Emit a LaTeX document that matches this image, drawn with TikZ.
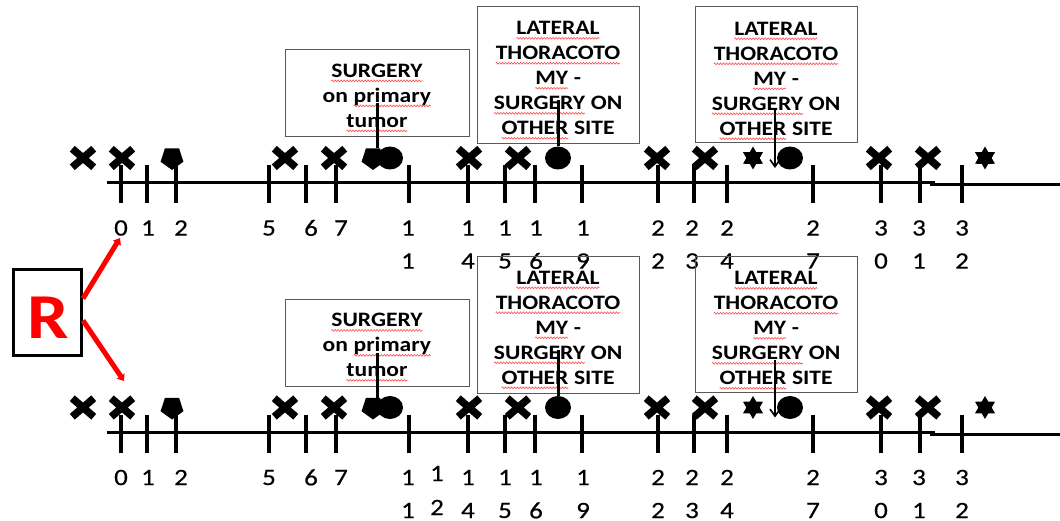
\documentclass[tikz,border=0pt]{standalone}
\usepackage{fontspec}
\setmainfont{Carlito}[FakeStretch=1.15]
\newfontfamily\digitfont{Carlito}[FakeStretch=1.15, FakeBold=0.4]
\usetikzlibrary{arrows.meta,shapes.geometric,shapes.misc,decorations.pathmorphing}
\newcommand{\wv}[1]{\tikz[baseline=(w.base), x=1pt, y=1pt]{\node[inner sep=0pt, outer sep=0pt, draw=none, fill=none, minimum width=0pt, minimum height=0pt, shape=rectangle] (w) {#1};
  \draw[red!70, line width=0.6pt, decorate, decoration={zigzag, segment length=3pt, amplitude=0.9pt}] ([yshift=-3.5pt]w.base west) -- ([yshift=-3.5pt]w.base east);}}
\newcommand{\drawtimeline}{%
  \draw[axisline] (107,183) -- (935,183);
  \draw[axisline] (930,185) -- (1060,185);
  \foreach \x in {121,147,176,269,306,336,409,468,505,535,582,658,694,727,813,881,920,962}
    \draw[tickline] (\x,165) -- (\x,203);
  \foreach \x/\d [count=\i] in {121/0,148/1,181/2,269/5,311/6,341/7,408/1,468/1,505/1,536/1,583/1,658/2,692/2,727/2,813/2,881/3,919/3,962/3}
    \node[lbl] (ua\i) at (\x,228) {\d};
  \foreach \x/\d [count=\i] in {408/1,468/4,505/5,536/6,583/9,658/2,692/3,727/4,813/7,881/0,919/1,962/2}
    \node[lbl] (ub\i) at (\x,261) {\d};
  \node[infobox, minimum width=184pt, minimum height=87pt] (b1) at (377,93.5) {};
  \node[boxtext] (t1) at (377,98) {\wv{SURGERY}\\on \wv{primary}\\\wv{tumor}};
  \node[infobox, minimum width=162pt, minimum height=137pt] (b2) at (558,75.5) {};
  \node[boxtext] (t2) at (558,80.5)
    {\wv{LATERAL}\\\wv{THORACOTO}\\\wv{MY} -\\\wv{SURGERY} ON\\\wv{OTHER} SITE};
  \node[infobox, minimum width=162pt, minimum height=136pt] (b3) at (776,75) {};
  \node[boxtext] (t3) at (776,81)
    {\wv{LATERAL}\\\wv{THORACOTO}\\\wv{MY} -\\\wv{SURGERY} ON\\\wv{OTHER} SITE};
  \node[xmark] (x1) at (83,158) {};
  \node[xmark] (x2) at (122,158) {};
  \node[pent] (p1) at (172,158) {};
  \node[xmark] (x3) at (285,158) {};
  \node[xmark] (x4) at (334,158) {};
  \node[pent] (p2) at (373,158) {};
  \node[dot] (c1) at (390,158) {};
  \node[xmark] (x5) at (469,158) {};
  \node[xmark] (x6) at (518,158) {};
  \node[dot] (c2) at (558,158) {};
  \node[xmark] (x7) at (657,158) {};
  \node[xmark] (x8) at (705,158) {};
  \node[starmark] (s1) at (753,158) {};
  \node[dot] (c3) at (790,158) {};
  \node[xmark] (x9) at (879,158) {};
  \node[xmark] (x10) at (928,158) {};
  \node[starmark] (s2) at (985,158) {};
  \coordinate (k1) at (377,103);
  \coordinate (k2) at (558,100);
  \coordinate (k3) at (775,110);
  \coordinate (k3e) at (775,168);
  \draw[conn] (k1) -- (k1 |- p2.north);
  \draw[conn] (k2) -- (c2.north);
  \draw[thinarrow] (k3) -- (k3e);
}
\begin{document}
\begin{tikzpicture}[x=1pt,y=-1pt,
  axisline/.style={line width=3pt},
  tickline/.style={line width=3.5pt},
  lbl/.style={font=\digitfont\fontsize{23.5}{27}\selectfont, inner sep=0pt},
  infobox/.style={draw=black!65, line width=1pt, inner sep=0pt},
  boxtext/.style={align=center, inner sep=0pt, font=\bfseries\fontsize{20.5}{25}\selectfont},
  xmark/.style={cross out, draw, line width=7.5pt, minimum width=14pt, minimum height=11pt, inner sep=0pt},
  pent/.style={regular polygon, regular polygon sides=5, shape border rotate=180, fill, inner sep=0pt, minimum size=24pt},
  dot/.style={ellipse, fill, inner sep=0pt, minimum width=26pt, minimum height=23pt},
  starmark/.style={star, star points=6, star point ratio=1.73, fill, inner sep=0pt, minimum size=23pt},
  conn/.style={line width=3pt},
  thinarrow/.style={line width=1.6pt, -{Straight Barb[length=7pt,width=10pt]}},
  redarrow/.style={red, line width=5pt, -{Triangle[length=6pt,width=9pt]}}]
\useasboundingbox (0,0) rectangle (1060,521);
\fill[white] (0,0) rectangle (1060,521);
\drawtimeline
\begin{scope}[yshift=-249.5pt, name prefix=lo-]
\drawtimeline
\node[lbl] (u12a) at (437,224) {1};
\node[lbl] (u12b) at (437,258) {2};
\end{scope}
\node[draw, line width=3pt, minimum width=68pt, minimum height=86pt, inner sep=0pt] (R) at (47.5,312.5) {};
\node[font=\bfseries\fontsize{64}{64}\selectfont, text=red, anchor=base, inner sep=0pt] (Rt) at (48,338.5) {R};
\coordinate (ra1) at (120,238);
\coordinate (ra2) at (124,381);
\draw[redarrow] ([yshift=14pt]R.east) -- (ra1);
\draw[redarrow] ([yshift=-8pt]R.east) -- (ra2);
\end{tikzpicture}
\end{document}
